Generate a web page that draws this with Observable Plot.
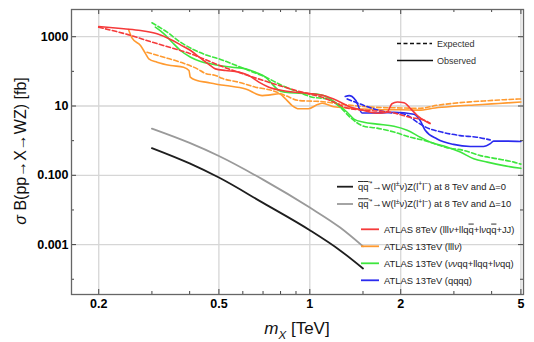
<!DOCTYPE html>
<html><head><meta charset="utf-8">
<script src="https://cdn.jsdelivr.net/npm/d3@7"></script>
<script src="https://cdn.jsdelivr.net/npm/@observablehq/plot@0.6"></script>
<style>
body{margin:0;background:#fff}
#chart svg{font-family:"Liberation Sans",Arial,sans-serif;background:#fff}
</style>
</head><body><div id="chart"></div>
<script>
// ---- data (mass in TeV, sigma*B in fb) ----
const redObsM = [0.2,0.242,0.275,0.312,0.346,0.373,0.403,0.435,0.463,0.487,0.526,0.582,0.628,0.678,0.732,0.81,0.897,1.0,1.11,1.23,1.36,1.51,1.67,1.8,1.87,1.95,2.05,2.16,2.27,2.42,2.5];
const redObsV = [1970,1690,1510,1210,830,583,400,240,160,118,106,95,76,49,35,28,25,23,20,14.4,9.3,7.4,6.2,6.6,11.6,13,12.4,8.3,5.3,3.6,3.1];
const redExpM = [0.2,0.25,0.3,0.35,0.4,0.45,0.5,0.6,0.7,0.8,0.9,1.0,1.1,1.2,1.36,1.59,1.85,2.15,2.41,2.5];
const redExpV = [1870,1150,700,470,330,220,150,85,55,38,28,22,18,13,8.3,7.4,6.6,4.7,3.8,3.2];

const orangeObsM = [0.251,0.258,0.275,0.286,0.293,0.312,0.346,0.382,0.398,0.402,0.423,0.457,0.487,0.526,0.613,0.696,0.74,0.79,0.831,0.874,0.92,0.99,1.06,1.1,1.2,1.5,1.8,2.0,2.3,2.6,3.0,3.5,4.0,4.5,5.0];
const orangeObsV = [1610,905,557,321,230,184,148,132,106,68,54.6,48,43,39,31,20,21,22.5,16,10.3,8.3,8.3,11,12,9.5,8.2,7.8,7.8,7.6,8.8,9.8,10.7,11.5,12.3,13];
const orangeExpM = [0.289,0.329,0.373,0.424,0.45,0.49,0.512,0.582,0.661,0.751,0.831,0.92,1.02,1.085,1.3,1.6,2.0,2.32,2.64,3.0,3.4,3.87,4.4,5.0];
const orangeExpV = [357,255,184,118,88,75,63,48.5,35,28,20,14.4,13.8,13.5,11,9.3,8.8,8.6,10.5,12,13.2,14.2,15.2,16];

const greenObsM = [0.308,0.329,0.35,0.373,0.403,0.435,0.469,0.5,0.553,0.613,0.661,0.714,0.75,0.79,0.831,0.92,1.02,1.11,1.23,1.33,1.4,1.51,1.67,1.9,2.1,2.32,2.51,2.84,3.15,3.49,3.87,4.39,5.0];
const greenObsV = [1880,1210,694,400,256,193,165,148,132,118,94,68,43.5,28,25,23.4,22.5,20,11.6,6.6,4.2,3.4,3.0,2.6,2.0,1.26,0.9,0.66,0.47,0.30,0.24,0.19,0.159];
const greenExpM = [0.30,0.337,0.373,0.413,0.457,0.5,0.553,0.628,0.714,0.81,0.92,1.02,1.14,1.26,1.36,1.51,1.67,1.9,2.15,2.41,2.84,3.24,3.67,4.17,4.74,5.0];
const greenExpV = [2520,1350,694,420,290,230,165,106,68,39,25,18,16,9.3,4.7,2.6,2.3,1.77,1.26,1.0,0.63,0.52,0.37,0.30,0.24,0.21];

const blueObsM = [1.31,1.35,1.38,1.42,1.49,1.67,1.9,2.21,2.32,2.41,2.64,2.99,3.4,3.76,3.96,4.06,4.5,5.0];
const blueObsV = [18.8,20,18.8,14.4,6.3,6.3,6.6,5.8,3.8,2.0,1.12,0.78,0.68,0.68,0.82,0.97,0.97,0.95];
const blueExpM = [1.33,1.55,1.8,2.05,2.27,2.41,2.71,3.15,3.57,3.96];
const blueExpV = [16,9.6,6.6,5.9,3.4,2.5,1.8,1.4,1.26,1.05];

const theoryM = [0.3,0.4,0.5,0.7,1.0,1.26,1.5];
const theoryD0V = [0.61,0.22,0.086,0.016,0.0026,0.00068,0.000205];
const theoryD10V = [2.23,0.86,0.36,0.075,0.0117,0.0031,0.00089];

const xMajor = [0.2,0.5,1,2,5];
const xTickLabels = ["0.2","0.5","1","2","5"];
const xMinor = [0.3,0.4,0.6,0.7,0.8,0.9,1.5,3,4];
const yMajor = [1000,10,0.1,0.001];
const yTickLabels = ["1000","10","0.100","0.001"];
const yMinor = [100,1,0.01,0.0001];

// ---- build tables ----
const zip = (ms, vs) => ms.map((m,i)=>({m, v: vs[i]}));
const series = [
  {d: zip(theoryM, theoryD0V), c:"#1e1e1e", dash:null, w:1.8},
  {d: zip(theoryM, theoryD10V), c:"#9a9a9a", dash:null, w:1.8},
  {d: zip(orangeExpM, orangeExpV), c:"#ff9a30", dash:"4.5,2.5", w:1.6},
  {d: zip(orangeObsM, orangeObsV), c:"#ff9a30", dash:null, w:1.6},
  {d: zip(greenExpM, greenExpV), c:"#3ee63e", dash:"4.5,2.5", w:1.6},
  {d: zip(greenObsM, greenObsV), c:"#3ee63e", dash:null, w:1.6},
  {d: zip(blueExpM, blueExpV), c:"#2a2aee", dash:"4.5,2.5", w:1.6},
  {d: zip(blueObsM, blueObsV), c:"#2a2aee", dash:null, w:1.6},
  {d: zip(redExpM, redExpV), c:"#f53a3a", dash:"4.5,2.5", w:1.6},
  {d: zip(redObsM, redObsV), c:"#f53a3a", dash:null, w:1.6}
];

const W=534, H=342, mL=71, mR=11, mT=9, mB=48;
const pw = W-mL-mR, ph = H-mT-mB;
const majLen=5, minLen=3, tickCol="#444";

const marks = [
  Plot.gridX(xMajor, {stroke:"#d6d6d6", strokeOpacity:1, strokeWidth:1.3}),
  Plot.gridY(yMajor, {stroke:"#d6d6d6", strokeOpacity:1, strokeWidth:1.3}),
  ...series.map(s => Plot.line(s.d, {x:"m", y:"v", stroke:s.c, strokeWidth:s.w, strokeDasharray:s.dash, curve:"monotone-x"})),
  Plot.tickX(xMajor, {x:d=>d, insetTop:ph-majLen, stroke:tickCol}),
  Plot.tickX(xMajor, {x:d=>d, insetBottom:ph-majLen, stroke:tickCol}),
  Plot.tickX(xMinor, {x:d=>d, insetTop:ph-minLen, stroke:tickCol}),
  Plot.tickX(xMinor, {x:d=>d, insetBottom:ph-minLen, stroke:tickCol}),
  Plot.tickY(yMajor, {y:d=>d, insetRight:pw-majLen, stroke:tickCol}),
  Plot.tickY(yMajor, {y:d=>d, insetLeft:pw-majLen, stroke:tickCol}),
  Plot.tickY(yMinor, {y:d=>d, insetRight:pw-minLen, stroke:tickCol}),
  Plot.tickY(yMinor, {y:d=>d, insetLeft:pw-minLen, stroke:tickCol}),
  Plot.axisX({ticks:xMajor, tickSize:0, tickPadding:5, label:null, fontSize:12.5, fontWeight:"bold", fill:"#000",
    tickFormat: d => xTickLabels[xMajor.indexOf(d)]}),
  Plot.axisY({ticks:yMajor, tickSize:0, tickPadding:3, label:null, fontSize:12.5, fontWeight:"bold", fill:"#000",
    tickFormat: d => yTickLabels[yMajor.indexOf(d)]}),
  Plot.frame({stroke:"#666", strokeWidth:1.3})
];

const svg = Plot.plot({
  width:W, height:H, marginLeft:mL, marginRight:mR, marginTop:mT, marginBottom:mB,
  style:{fontFamily:'"Liberation Sans",Arial,sans-serif', background:"#fff"},
  x:{type:"log", domain:[0.1625,5.1]},
  y:{type:"log", domain:[3.63e-5,6100]},
  marks
});
document.getElementById("chart").appendChild(svg);

// ---- titles and legends ----
const s = d3.select(svg);
const FONT = '"Liberation Sans",Arial,sans-serif';

function richText(g, x, y, parts, size, fill, anchor, extra) {
  const t = g.append("text").attr("x",x).attr("y",y).attr("font-size",size).attr("fill",fill)
    .attr("font-family",FONT).attr("text-anchor",anchor||"start");
  if (extra) extra(t);
  let shift = 0;
  parts.forEach(([txt, kind]) => {
    const sp = t.append("tspan").text(txt);
    let target = 0;
    if (kind==="sup") { target = -size*0.38; sp.attr("font-size", size*0.72); }
    if (kind==="sub") { target = size*0.28; sp.attr("font-size", size*0.68); sp.attr("font-style","italic"); }
    if (kind==="it") { sp.attr("font-style","italic"); }
    if (kind==="bar") { sp.attr("text-decoration","overline"); }
    if (target !== shift) { sp.attr("dy", target - shift); shift = target; }
  });
  return t;
}

// x title
richText(s, 297, 334, [["m","it"],["X","sub"],[" [TeV]",""]], 17, "#111", "middle");
// y title
richText(s, 0, 0, [["σ","it"],[" B(pp→X→WZ) [fb]",""]], 16, "#111", "middle",
  t => t.attr("transform","translate(26,151) rotate(-90)"));

// Expected / Observed legend
const lg = s.append("g");
lg.append("line").attr("x1",397).attr("x2",432).attr("y1",43.5).attr("y2",43.5)
  .attr("stroke","#111").attr("stroke-width",1.4).attr("stroke-dasharray","4,2.5");
lg.append("line").attr("x1",397).attr("x2",433).attr("y1",60.5).attr("y2",60.5)
  .attr("stroke","#111").attr("stroke-width",1.6);
richText(lg, 437, 46.5, [["Expected",""]], 9, "#333", "start");
richText(lg, 437, 63.5, [["Observed",""]], 9, "#333", "start");

// series legend
const theoryParts = delta => [["q","bar"],["q","bar"],["′*","sup"],["→W(l",""],["±","sup"],["ν)Z(l",""],["+","sup"],["l",""],["−","sup"],[") at 8 TeV and Δ=" + delta,""]];
const legendEntries = [
  {c:"#1e1e1e", x1:337, x2:353, y:186.7, parts:theoryParts("0")},
  {c:"#9a9a9a", x1:337, x2:353, y:204, parts:theoryParts("10")},
  {c:"#f53a3a", x1:361, x2:379, y:229.3, parts:[["ATLAS 8TeV (lll",""],["ν","it"],["+llq",""],["q","bar"],["+l",""],["ν","it"],["q",""],["q","bar"],["+JJ)",""]]},
  {c:"#ff9a30", x1:361, x2:379, y:246.3, parts:[["ATLAS 13TeV (lll",""],["ν","it"],[")",""]]},
  {c:"#3ee63e", x1:361, x2:379, y:263.3, parts:[["ATLAS 13TeV (",""],["νν","it"],["qq+llqq+l",""],["ν","it"],["qq)",""]]},
  {c:"#2a2aee", x1:361, x2:379, y:280.3, parts:[["ATLAS 13TeV (qqqq)",""]]}
];
const lg2 = s.append("g");
legendEntries.forEach(e => {
  lg2.append("line").attr("x1",e.x1).attr("x2",e.x2).attr("y1",e.y).attr("y2",e.y)
    .attr("stroke",e.c).attr("stroke-width",1.8);
  richText(lg2, e.x2+5, e.y+3.3, e.parts, 9.4, "#222", "start");
});
</script>
</body></html>
